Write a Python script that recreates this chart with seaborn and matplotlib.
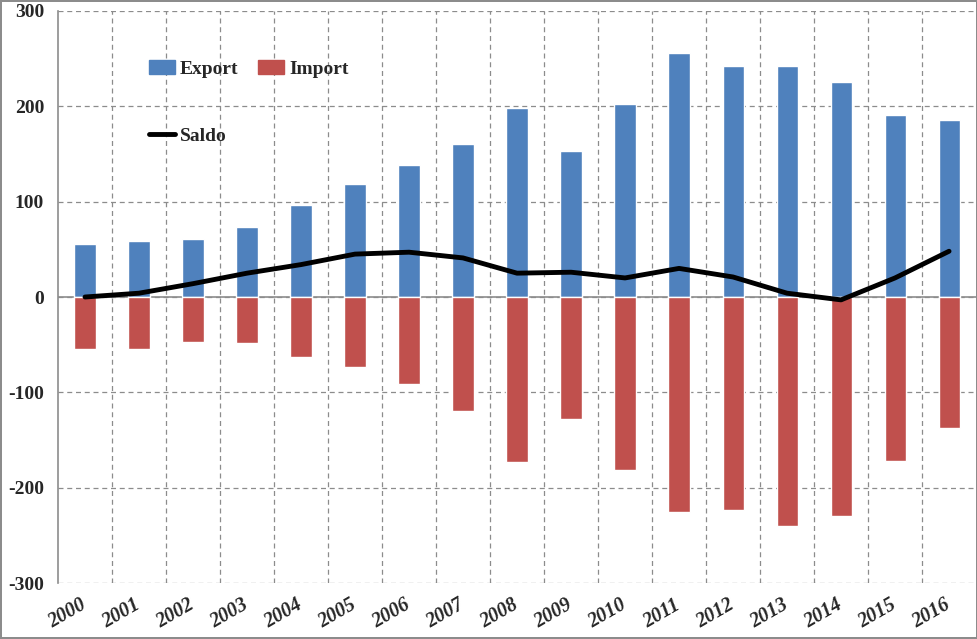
import numpy as np
import pandas as pd
import matplotlib
matplotlib.use('Agg')
import matplotlib.pyplot as plt
import seaborn as sns
from matplotlib.lines import Line2D
from matplotlib.patches import Patch

years = [str(y) for y in range(2000, 2017)]
export = [56, 59, 61, 73, 97, 119, 138, 161, 198, 153, 202, 256, 242, 242, 226, 191, 186]
imports = [-55, -55, -47, -48, -63, -73, -91, -120, -173, -128, -181, -226, -223, -240, -230, -172, -137]
saldo = [0, 4, 14, 25, 34, 45, 47, 41, 25, 26, 20, 30, 21, 4, -3, 20, 48]

blue = '#4F81BD'
red = '#C0504D'
grid_col = '#8c8c8c'

df = pd.DataFrame({'Year': years, 'Export': export, 'Import': imports, 'Saldo': saldo})

sns.set_style('white')
plt.rcParams['font.family'] = ['Liberation Serif', 'DejaVu Serif']
plt.rcParams['axes.unicode_minus'] = False

fig = plt.figure(figsize=(9.78, 6.39), dpi=100, linewidth=1.5, edgecolor='#8c8c8c')
ax = fig.add_axes([0.0593, 0.0876, 0.9387, 0.8952])

sns.barplot(data=df, x='Year', y='Export', color=blue, width=0.39, saturation=1, ax=ax, zorder=3)
sns.barplot(data=df, x='Year', y='Import', color=red, width=0.39, saturation=1, ax=ax, zorder=3)
sns.lineplot(data=df, x='Year', y='Saldo', color='black', lw=3.5, ax=ax, zorder=4, sort=False)

ax.set_xlim(-0.5, len(years) - 0.5)
ax.set_ylim(-300, 300)
ax.set_yticks(np.arange(-300, 301, 100))
ax.set_xticks(np.arange(0.5, len(years) - 1, 1), minor=True)

## dashed grid, solid zero axis
ax.yaxis.grid(True, linestyle=(0, (4, 3)), color=grid_col, lw=0.9, zorder=0)
ax.xaxis.grid(True, which='minor', linestyle=(0, (4, 3)), color=grid_col, lw=0.9, zorder=0)
ax.xaxis.grid(False, which='major')
ax.axhline(0, color=grid_col, lw=1.2, zorder=2)
ax.set_axisbelow(True)

for s in ['top', 'right', 'bottom']:
    ax.spines[s].set_visible(False)
ax.spines['left'].set_color(grid_col)
ax.spines['left'].set_linewidth(1.2)

ax.tick_params(axis='y', length=6, color=grid_col, pad=4, labelsize=14)
ax.tick_params(axis='x', which='both', length=0, pad=15)
for t in ax.get_yticklabels():
    t.set_fontweight('bold')
ax.set_xticks(range(len(years)))
ax.set_xticklabels(years, rotation=30, ha='right', va='center', rotation_mode='anchor',
                   fontsize=14.5, fontweight='bold', fontstyle='italic')
ax.set_xlabel('')
ax.set_ylabel('')

handles = [Patch(color=blue), Line2D([], [], color='black', lw=3.5), Patch(color=red)]
labels = ['Export', 'Saldo', 'Import']
ax.legend(handles, labels, ncol=2, loc='upper left', bbox_to_anchor=(0.08, 0.945),
          frameon=False, labelspacing=2.55, columnspacing=1.0, handlelength=1.35,
          handletextpad=0.25, prop={'weight': 'bold', 'size': 14})

fig.savefig('out.png', dpi=100)
